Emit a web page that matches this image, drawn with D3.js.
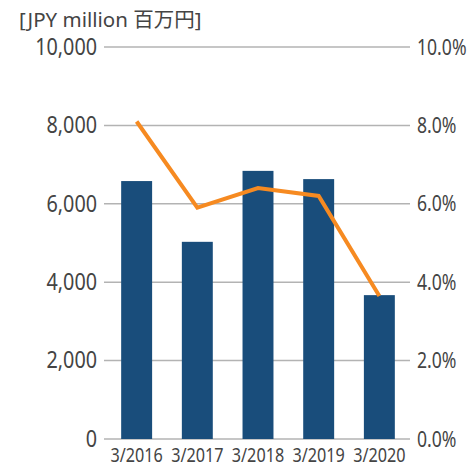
<!DOCTYPE html>
<html>
<head>
<meta charset="utf-8">
<script src="https://cdn.jsdelivr.net/npm/d3@7"></script>
<style>
  body { margin: 0; background: #fff; }
  text { font-family: "Noto Sans", "Noto Sans CJK JP", sans-serif; fill: #444; }
</style>
</head>
<body>
<svg id="chart"></svg>
<script>
    // values
    const years = ["3/2016", "3/2017", "3/2018", "3/2019", "3/2020"];
    const amounts = [6580, 5030, 6840, 6630, 3670];      // JPY million
    const ratios = [8.1, 5.9, 6.4, 6.2, 3.65];           // %
    const leftTicks = [0, 2000, 4000, 6000, 8000, 10000];
    const rightTicks = [0, 2, 4, 6, 8, 10];

    const width = 468;
    const height = 468;
    const margin = {top: 47, right: 58, bottom: 29, left: 104};

    const svg = d3.select("#chart")
      .attr("width", width)
      .attr("height", height);

    const x = d3.scaleBand()
      .domain(years)
      .range([margin.left + 2, width - margin.right])
      .paddingInner(0.49)
      .paddingOuter(0.25);

    const y = d3.scaleLinear()
      .domain([0, 10000])
      .range([height - margin.bottom, margin.top]);

    const y2 = d3.scaleLinear()
      .domain([0, 10])
      .range([height - margin.bottom, margin.top]);

    // the reference font is a narrow one, squeeze Noto Sans sideways
    function condense(sel, size, sx) {
      sel.selectAll("text")
        .style("font-size", size + "px")
        .attr("fill", null)
        .each(function() {
          const t = d3.select(this);
          const xv = +t.attr("x") || 0;
          t.attr("x", 0).attr("transform", `translate(${xv},0) scale(${sx},1)`);
        });
    }

    // gridlines
    svg.append("g")
      .selectAll("line")
      .data(leftTicks)
      .join("line")
      .attr("x1", margin.left)
      .attr("x2", width - margin.right)
      .attr("y1", d => y(d))
      .attr("y2", d => y(d))
      .attr("stroke", "#b3b3b3")
      .attr("stroke-width", 1.5);

    // bars
    svg.append("g")
      .selectAll("rect")
      .data(amounts)
      .join("rect")
      .attr("x", (d, i) => x(years[i]))
      .attr("y", d => y(d))
      .attr("width", x.bandwidth())
      .attr("height", d => y(0) - y(d))
      .attr("fill", "#194d7b");

    // ratio line
    const line = d3.line()
      .x((d, i) => x(years[i]) + x.bandwidth() / 2)
      .y(d => y2(d));

    svg.append("path")
      .datum(ratios)
      .attr("d", line)
      .attr("fill", "none")
      .attr("stroke", "#f68a21")
      .attr("stroke-width", 4);

    // left axis
    const leftAxis = d3.axisLeft(y)
      .tickValues(leftTicks)
      .tickFormat(d3.format(","))
      .tickSize(0)
      .tickPadding(7);

    svg.append("g")
      .attr("transform", `translate(${margin.left},0)`)
      .call(leftAxis)
      .call(g => g.select(".domain").remove())
      .call(g => condense(g, 23, 0.86));

    // right axis
    const rightAxis = d3.axisRight(y2)
      .tickValues(rightTicks)
      .tickFormat(d => d3.format(".1f")(d) + "%")
      .tickSize(0)
      .tickPadding(7);

    svg.append("g")
      .attr("transform", `translate(${width - margin.right},0)`)
      .call(rightAxis)
      .call(g => g.select(".domain").remove())
      .call(g => condense(g, 22, 0.8));

    // x axis
    const xAxis = d3.axisBottom(x).tickSize(0).tickPadding(8);
    svg.append("g")
      .attr("transform", `translate(0,${height - margin.bottom})`)
      .call(xAxis)
      .call(g => g.select(".domain").remove())
      .call(g => condense(g, 20.5, 0.79));

    // unit label
    svg.append("text")
      .attr("x", 19)
      .attr("y", 27)
      .style("font-size", "20.5px")
      .text("[JPY million 百万円]");
</script>
</body>
</html>
